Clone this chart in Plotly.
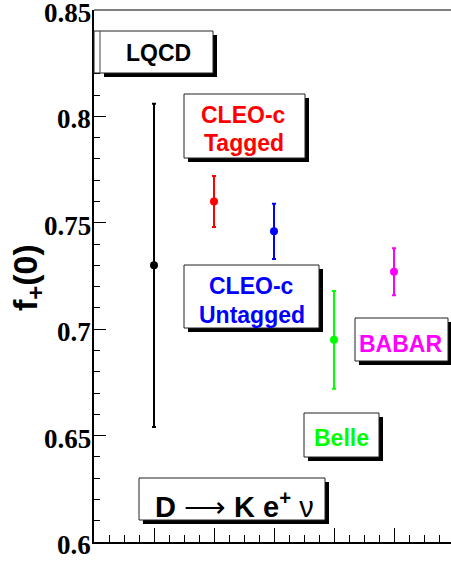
import plotly.graph_objects as go

# ---- data ----
experiments = ["LQCD", "CLEO-c Tagged", "CLEO-c Untagged", "Belle", "BABAR"]
x_pos = [1, 2, 3, 4, 5]
f0_values = [0.730, 0.760, 0.746, 0.695, 0.727]
f0_errors = [0.076, 0.012, 0.013, 0.023, 0.011]
colors = ["#000000", "#ff0000", "#0000ff", "#00ff00", "#ff00ff"]
y_tickvals = [0.6, 0.65, 0.7, 0.75, 0.8, 0.85]
y_ticktext = ["0.6", "0.65", "0.7", "0.75", "0.8", "0.85"]

W, H = 451, 561
L, R, T, B = 94, 0, 10, 19
PW, PH = W - L - R, H - T - B


def px(xp):
    return (xp - L) / PW


def py(yp):
    return (H - B - yp) / PH


fig = go.Figure()
for name, x, v, e, c in zip(experiments, x_pos, f0_values, f0_errors, colors):
    fig.add_trace(go.Scatter(
        x=[x], y=[v], mode="markers", name=name,
        marker=dict(color=c, size=8),
        error_y=dict(type="data", array=[e], color=c, thickness=2, width=2),
        showlegend=False,
    ))

shapes = []
annotations = []


def box(x0, y0, x1, y1, sh=4):
    shapes.append(dict(type="rect", xref="paper", yref="paper",
                       x0=px(x0 + sh), x1=px(x1 + sh), y0=py(y1 + sh), y1=py(y0 + sh),
                       fillcolor="black", line=dict(width=0), layer="above"))
    shapes.append(dict(type="rect", xref="paper", yref="paper",
                       x0=px(x0), x1=px(x1), y0=py(y1), y1=py(y0),
                       fillcolor="white", line=dict(color="#222222", width=1), layer="above"))


def label(text, xc, yc, color, size=23):
    annotations.append(dict(xref="paper", yref="paper", x=px(xc), y=py(yc),
                            text=text, showarrow=False, xanchor="center", yanchor="middle",
                            font=dict(family="Liberation Sans", size=size, color=color,
                                      weight="bold")))


# LQCD box (with extra segment towards the axis)
shapes.append(dict(type="rect", xref="paper", yref="paper",
                   x0=px(104), x1=px(217), y0=py(77), y1=py(35),
                   fillcolor="black", line=dict(width=0), layer="above"))
shapes.append(dict(type="rect", xref="paper", yref="paper",
                   x0=px(94), x1=px(213), y0=py(73), y1=py(31),
                   fillcolor="white", line=dict(color="#222222", width=1), layer="above"))
shapes.append(dict(type="line", xref="paper", yref="paper",
                   x0=px(100), x1=px(100), y0=py(73), y1=py(31),
                   line=dict(color="#444444", width=1), layer="above"))
label("LQCD", 158, 53, "black")

box(184, 94, 305, 158)
label("CLEO-c", 243.5, 115, colors[1])
label("Tagged", 243.5, 143, colors[1])

box(184, 265, 319, 328)
label("CLEO-c", 251.5, 286, colors[2])
label("Untagged", 251.5, 315, colors[2])

box(355, 318, 448, 361)
label("BABAR", 400.5, 344, colors[4])

box(304, 413, 379, 457)
label("Belle", 341, 438, colors[3])

box(139, 478, 325, 520)
annotations.append(dict(xref="paper", yref="paper", x=px(234), y=py(505),
                        text="<b>D</b> \u27f6 <b>K e<sup>+</sup></b> \u03bd", showarrow=False,
                        xanchor="center", yanchor="middle",
                        font=dict(family="Liberation Sans", size=29, color="black")))

# y-axis title
annotations.append(dict(xref="paper", yref="paper", x=px(27), y=py(278),
                        text="<b>f<sub>+</sub>(0)</b>", showarrow=False, textangle=-90,
                        xanchor="center", yanchor="middle",
                        font=dict(family="Liberation Sans", size=34, color="black")))

# y tick labels (drawn as annotations at the tick values, slightly lowered as in ROOT)
for tv, tt in zip(y_tickvals, y_ticktext):
    annotations.append(dict(xref="paper", yref="y", x=px(93), y=tv, yshift=-3,
                            text=tt, showarrow=False, xanchor="right", yanchor="middle",
                            font=dict(family="Liberation Serif", size=27, color="black",
                                      weight="bold")))

# top frame line
shapes.append(dict(type="line", xref="paper", yref="paper", x0=0, x1=1, y0=1, y1=1,
                   line=dict(color="black", width=1)))

fig.update_layout(
    width=W, height=H,
    margin=dict(l=L, r=R, t=T, b=B, pad=0, autoexpand=False),
    paper_bgcolor="white", plot_bgcolor="white",
    shapes=shapes, annotations=annotations,
    xaxis=dict(range=[0, 5.95], showgrid=False, zeroline=False, automargin=False,
               showline=True, linecolor="black", linewidth=2,
               ticks="inside", ticklen=14, tickwidth=1, tickcolor="black",
               tick0=0, dtick=1, showticklabels=False,
               minor=dict(dtick=0.25, ticks="inside", ticklen=7, tickwidth=1,
                          tickcolor="black", showgrid=False)),
    yaxis=dict(range=[0.59999, 0.85001], showgrid=False, zeroline=False, automargin=False,
               showline=True, linecolor="black", linewidth=2,
               ticks="inside", ticklen=12, tickwidth=1, tickcolor="black",
               tickvals=y_tickvals, showticklabels=False,
               minor=dict(dtick=0.01, ticks="inside", ticklen=6, tickwidth=1,
                          tickcolor="black", showgrid=False)),
)

fig.write_html("out.html", config={"displayModeBar": False},
               post_script="document.body.style.margin='0';document.body.style.overflow='hidden';")
